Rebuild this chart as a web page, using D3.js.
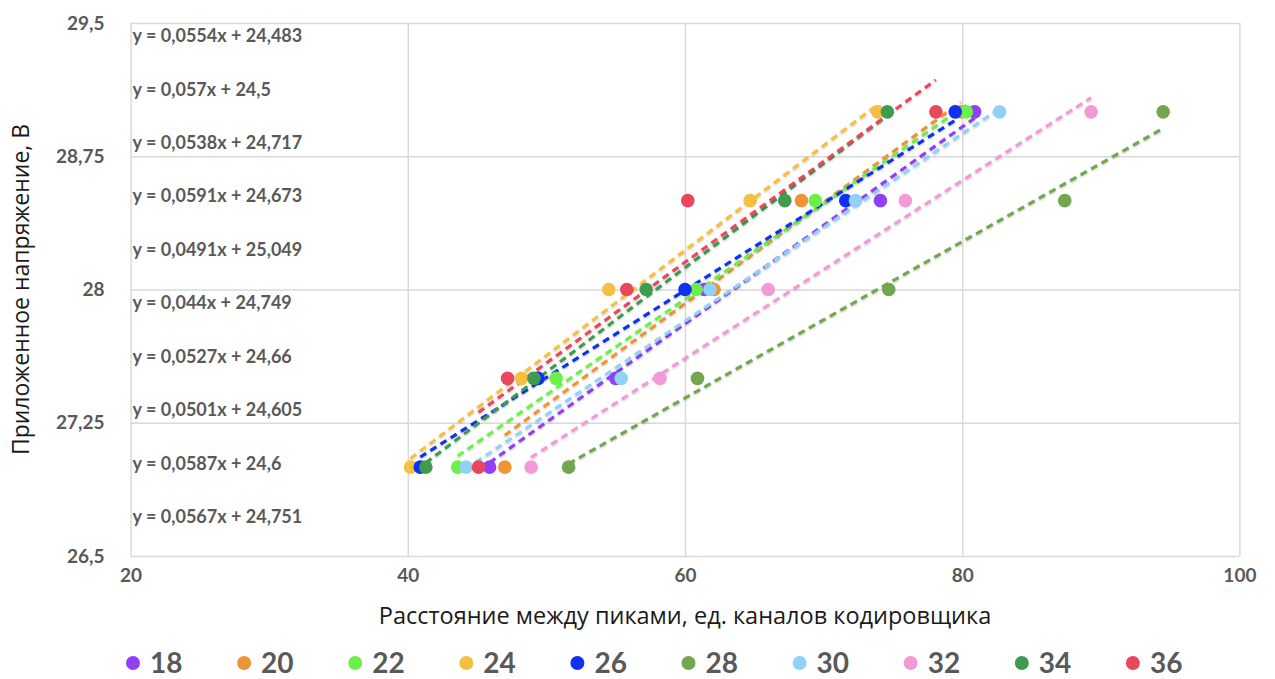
<!DOCTYPE html>
<html>
<head>
<meta charset="utf-8">
<script src="https://cdn.jsdelivr.net/npm/d3@7"></script>
<style>
  body { margin: 0; background: #fff; }
  svg { display: block; }
</style>
</head>
<body>
<div id="chart"></div>
<script>
// series names (legend order)
const seriesNames = ["18", "20", "22", "24", "26", "28", "30", "32", "34", "36"];
const seriesColors = ["#9141f5", "#ef9436", "#6cf049", "#f5bf41", "#1030f2", "#73a64e", "#90d1f8", "#f09bd8", "#3f9b50", "#e9475b"];

// applied voltage levels (same for all series)
const voltages = [27, 27.5, 28, 28.5, 29];

// distance between peaks for each series, one value per voltage level
const dist18 = [45.9, 55.0, 61.4, 74.1, 80.9];
const dist20 = [47.0, 49.4, 62.1, 68.4, 79.9];
const dist22 = [43.6, 50.7, 60.8, 69.4, 80.3];
const dist24 = [40.2, 48.2, 54.5, 64.7, 73.9];
const dist26 = [40.9, 49.4, 60.0, 71.6, 79.5];
const dist28 = [51.6, 60.9, 74.7, 87.4, 94.5];
const dist30 = [44.2, 55.4, 61.8, 72.3, 82.7];
const dist32 = [48.9, 58.2, 66.0, 75.9, 89.3];
const dist34 = [41.3, 49.1, 57.2, 67.2, 74.6];
const dist36 = [45.1, 47.2, 55.8, 60.2, 78.1];

// linear trendline coefficients y = a*x + b
const slopes = [0.0554, 0.057, 0.0538, 0.0591, 0.0491, 0.044, 0.0527, 0.0501, 0.0587, 0.0567];
const intercepts = [24.483, 24.5, 24.717, 24.673, 25.049, 24.749, 24.66, 24.605, 24.6, 24.751];
const eqLabels = [
  "y = 0,0554x + 24,483", "y = 0,057x + 24,5", "y = 0,0538x + 24,717",
  "y = 0,0591x + 24,673", "y = 0,0491x + 25,049", "y = 0,044x + 24,749",
  "y = 0,0527x + 24,66", "y = 0,0501x + 24,605", "y = 0,0587x + 24,6",
  "y = 0,0567x + 24,751"
];

const xTicks = [20, 40, 60, 80, 100];
const yTicks = [26.5, 27.25, 28, 28.75, 29.5];

const allDist = [dist18, dist20, dist22, dist24, dist26, dist28, dist30, dist32, dist34, dist36];
const series = seriesNames.map((name, i) => ({
  name,
  color: seriesColors[i],
  a: slopes[i],
  b: intercepts[i],
  eq: eqLabels[i],
  points: allDist[i].map((x, j) => ({x, y: voltages[j]}))
}));

/* dimensions */
const width = 1275, height = 679;
const margins = {top: 23, right: 35.6, bottom: 123, left: 130.6};

const svg = d3.select("#chart")
  .append("svg")
  .attr("width", width)
  .attr("height", height)
  .attr("viewBox", [0, 0, width, height]);

const xScale = d3.scaleLinear()
  .domain([20, 100])
  .range([margins.left, width - margins.right]);
const yScale = d3.scaleLinear()
  .domain([26.5, 29.5])
  .range([height - margins.bottom, margins.top]);

const fmt = d => String(d).replace(".", ",");
const tickFont = "Lato, 'Open Sans', sans-serif";

// soft shadow on trendlines, like the office chart
const defs = svg.append("defs");
const f = defs.append("filter").attr("id", "soft")
  .attr("x", "-5%").attr("y", "-5%").attr("width", "110%").attr("height", "110%");
f.append("feDropShadow").attr("dx", 0).attr("dy", 1).attr("stdDeviation", 1.2)
  .attr("flood-color", "#000").attr("flood-opacity", 0.25);

/* gridlines */
const grid = svg.append("g").attr("class", "grid");
grid.append("g")
  .attr("transform", `translate(0,${height - margins.bottom})`)
  .call(d3.axisBottom(xScale).tickValues(xTicks)
    .tickSize(-(height - margins.top - margins.bottom)).tickFormat(""))
  .call(g => g.select(".domain").remove())
  .call(g => g.selectAll("line").attr("stroke", "#d9d9d9").attr("stroke-width", 1.5));
grid.append("g")
  .attr("transform", `translate(${margins.left},0)`)
  .call(d3.axisLeft(yScale).tickValues(yTicks)
    .tickSize(-(width - margins.left - margins.right)).tickFormat(""))
  .call(g => g.select(".domain").remove())
  .call(g => g.selectAll("line").attr("stroke", "#d9d9d9").attr("stroke-width", 1.5));

/* axes labels */
const xAxis = svg.append("g")
  .attr("transform", `translate(0,${height - margins.bottom})`)
  .call(d3.axisBottom(xScale).tickValues(xTicks).tickSize(0).tickPadding(13).tickFormat(fmt));
xAxis.select(".domain").remove();
xAxis.selectAll("text")
  .attr("font-family", tickFont).attr("font-weight", "bold")
  .attr("font-size", 19).attr("fill", "#595959");

const yAxis = svg.append("g")
  .attr("transform", `translate(${margins.left},0)`)
  .call(d3.axisLeft(yScale).tickValues(yTicks).tickSize(0).tickPadding(26).tickFormat(fmt));
yAxis.select(".domain").remove();
yAxis.selectAll("text")
  .attr("font-family", tickFont).attr("font-weight", "bold")
  .attr("font-size", 19).attr("fill", "#595959");

/* trendlines */
const line = d3.line().x(d => xScale(d.x)).y(d => yScale(d.y));
svg.append("g").attr("class", "trends")
  .selectAll("path")
  .data(series)
  .join("path")
  .attr("d", s => {
    const [x0, x1] = d3.extent(s.points, p => p.x);
    return line([{x: x0, y: s.a * x0 + s.b}, {x: x1, y: s.a * x1 + s.b}]);
  })
  .attr("fill", "none")
  .attr("stroke", s => s.color)
  .attr("stroke-width", 3.2)
  .attr("stroke-dasharray", "7 5")
  .attr("filter", "url(#soft)");

/* points */
svg.append("g").attr("class", "points")
  .selectAll("g")
  .data(series)
  .join("g")
  .attr("fill", s => s.color)
  .selectAll("circle")
  .data(s => s.points)
  .join("circle")
  .attr("cx", d => xScale(d.x))
  .attr("cy", d => yScale(d.y))
  .attr("r", 6.8);

/* trendline equations */
const eqTop = 29.427, eqStep = 0.3006;
svg.append("g").attr("class", "equations")
  .selectAll("text")
  .data(series)
  .join("text")
  .attr("x", margins.left + 2)
  .attr("y", (s, i) => yScale(eqTop - i * eqStep))
  .attr("dy", "0.35em")
  .attr("font-family", tickFont)
  .attr("font-weight", "bold")
  .attr("font-size", 18)
  .attr("fill", "#595959")
  .text(s => s.eq);

/* axis titles */
svg.append("text")
  .attr("x", (margins.left + width - margins.right) / 2)
  .attr("y", 624)
  .attr("text-anchor", "middle")
  .attr("font-family", "'Open Sans', sans-serif")
  .attr("font-size", 23.5)
  .attr("fill", "#1a1a1a")
  .text("Расстояние между пиками, ед. каналов кодировщика");

svg.append("text")
  .attr("transform", `translate(29,${(margins.top + height - margins.bottom) / 2}) rotate(-90)`)
  .attr("text-anchor", "middle")
  .attr("font-family", "'Open Sans', sans-serif")
  .attr("font-size", 23)
  .attr("fill", "#1a1a1a")
  .text("Приложенное напряжение, В");

/* legend */
const legend = svg.append("g").attr("class", "legend")
  .attr("transform", "translate(133,663)");
const item = legend.selectAll("g")
  .data(series)
  .join("g")
  .attr("transform", (s, i) => `translate(${i * 111.1},0)`);
item.append("circle").attr("r", 7).attr("fill", s => s.color);
item.append("text")
  .attr("x", 17)
  .attr("dy", "0.36em")
  .attr("font-family", tickFont)
  .attr("font-weight", "bold")
  .attr("font-size", 28)
  .attr("fill", "#595959")
  .text(s => s.name);
</script>
</body>
</html>
